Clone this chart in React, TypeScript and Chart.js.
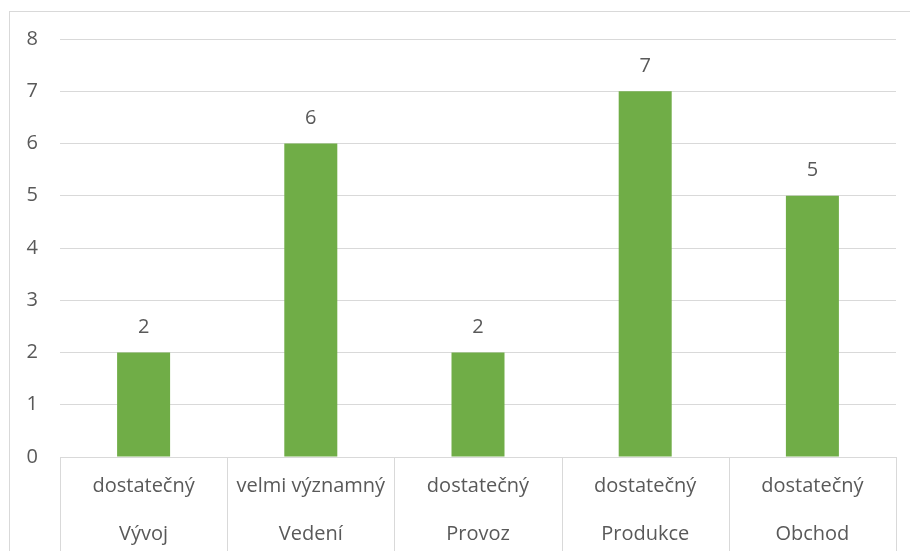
import React, { useEffect, useRef } from "react";
import { Chart, registerables } from "chart.js";

Chart.register(...registerables);

const levels: string[] = ["dostatečný", "velmi významný", "dostatečný", "dostatečný", "dostatečný"];
const departments: string[] = ["Vývoj", "Vedení", "Provoz", "Produkce", "Obchod"];
const values: number[] = [2, 6, 2, 7, 5];
const yMin = 0;
const yMax = 8;
const yStep = 1;

const TEXT = "#595959";
const GRID = "#d9d9d9";
const BAR = "#70AD47";
const FONT = "'Open Sans', sans-serif";

const decorPlugin = {
  id: "decor",
  afterDatasetsDraw(chart: any) {
    const { ctx, chartArea } = chart;
    const xs = chart.scales.x;
    const n = chart.data.labels.length;
    const w = (chartArea.right - chartArea.left) / n;
    ctx.save();
    ctx.strokeStyle = GRID;
    ctx.lineWidth = 1;
    for (let i = 0; i <= n; i++) {
      const x = Math.round(xs.left + i * w) + 0.5;
      ctx.beginPath();
      ctx.moveTo(x, chartArea.bottom);
      ctx.lineTo(x, chart.height);
      ctx.stroke();
    }
    // data labels
    const meta = chart.getDatasetMeta(0);
    ctx.fillStyle = TEXT;
    ctx.font = `20px ${FONT}`;
    ctx.textAlign = "center";
    ctx.textBaseline = "middle";
    meta.data.forEach((bar: any, i: number) => {
      const v = chart.data.datasets[0].data[i];
      ctx.fillText(String(v), bar.x, bar.y - 25);
    });
    ctx.restore();
  },
};

export default function App() {
  const ref = useRef<HTMLCanvasElement>(null);
  useEffect(() => {
    if (!ref.current) return;
    const labels = levels.map((l, i) => [l, departments[i]]);
    const chart = new Chart(ref.current, {
      type: "bar",
      data: {
        labels,
        datasets: [
          {
            data: values,
            backgroundColor: BAR,
            borderWidth: 0,
            categoryPercentage: 1,
            barPercentage: 0.317,
          },
        ],
      },
      options: {
        responsive: true,
        maintainAspectRatio: false,
        animation: false,
        layout: { padding: { top: 39, right: 14, bottom: 0, left: 0 } },
        plugins: {
          legend: { display: false },
          tooltip: { enabled: false },
        },
        scales: {
          x: {
            grid: { display: false, drawTicks: false },
            border: { display: false },
            ticks: {
              color: TEXT,
              font: { family: FONT, size: 20, lineHeight: 2.4 },
              padding: 5,
              maxRotation: 0,
              autoSkip: false,
            },
            afterFit(scale: any) {
              scale.height = 94;
            },
          },
          y: {
            min: yMin,
            max: yMax,
            grid: { color: GRID, lineWidth: 1, drawTicks: false },
            border: { display: false },
            ticks: {
              stepSize: yStep,
              color: TEXT,
              font: { family: FONT, size: 20 },
              padding: 22,
            },
            afterFit(scale: any) {
              scale.width = 60;
            },
          },
        },
      },
      plugins: [decorPlugin],
    });
    return () => chart.destroy();
  }, []);

  return (
    <div
      style={{
        position: "fixed",
        left: 0,
        top: 0,
        width: 910,
        height: 551,
        overflow: "hidden",
        background: "#fff",
      }}
    >
      <div
        style={{
          position: "absolute",
          left: 9,
          top: 11,
          width: 1000,
          height: 1000,
          border: `1px solid ${GRID}`,
          boxSizing: "border-box",
        }}
      />
      <div style={{ position: "absolute", left: 0, top: 0, width: 910, height: 551 }}>
        <canvas ref={ref} />
      </div>
    </div>
  );
}
